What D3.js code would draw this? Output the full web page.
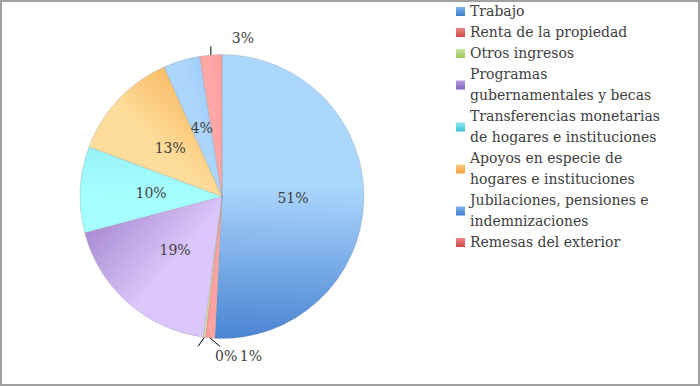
<!DOCTYPE html>
<html>
<head>
<meta charset="utf-8">
<script src="https://cdn.jsdelivr.net/npm/d3@7"></script>
<style>
  html, body { margin: 0; padding: 0; background: #fff; }
  svg { display: block; }
  text { font-family: "DejaVu Serif", "Liberation Serif", serif; fill: #404040; }
</style>
</head>
<body>
<svg id="chart" width="700" height="386"></svg>
<script>
// ---- data ----
const categories = [
  "Trabajo",
  "Renta de la propiedad",
  "Otros ingresos",
  "Programas gubernamentales y becas",
  "Transferencias monetarias de hogares e instituciones",
  "Apoyos en especie de hogares e instituciones",
  "Jubilaciones, pensiones e indemnizaciones",
  "Remesas del exterior"
];
const values = [50.8, 1.1, 0.2, 18.8, 9.8, 12.6, 4.2, 2.5];
const legendLines = [
  ["Trabajo"],
  ["Renta de la propiedad"],
  ["Otros ingresos"],
  ["Programas", "gubernamentales y becas"],
  ["Transferencias monetarias", "de hogares e instituciones"],
  ["Apoyos en especie de", "hogares e instituciones"],
  ["Jubilaciones, pensiones e", "indemnizaciones"],
  ["Remesas del exterior"]
];
// slice fill gradient colours (light -> dark), legend swatch colours (top -> bottom)
const sliceLight = ["#acd7fd", "#ffa3a3", "#dcf3a8", "#dbc7fb", "#a6ffff", "#fedc9a", "#acd6fc", "#ffa6a6"];
const sliceDark  = ["#4a84d2", "#fc9898", "#c8e890", "#a98bd2", "#98f2f6", "#f9bd68", "#a2cefa", "#fd9e9e"];
const swatchTop  = ["#7fb2ee", "#ec8582", "#cbe6a0", "#b7a0e0", "#8de6f2", "#ffcc88", "#7fb2ee", "#ec8582"];
const swatchBot  = ["#3f7ecf", "#d24c4a", "#9cc75c", "#8264bf", "#3ec2d8", "#f5a03a", "#3f7ecf", "#d24c4a"];

// ---- layout ----
const svg = d3.select("#chart");
const cx = 222, cy = 196.5, R = 142;

svg.append("rect").attr("x", 1).attr("y", 1).attr("width", 698).attr("height", 384)
  .attr("fill", "#fff").attr("stroke", "#a0a0a0").attr("stroke-width", 2);

const defs = svg.append("defs");
const total = d3.sum(values);
const pie = d3.pie().sort(null).value(d => d)(values);
const arc = d3.arc().innerRadius(0).outerRadius(R);
const rel = (a, r) => [r * Math.sin(a), -r * Math.cos(a)];
const pt = (a, r) => { const p = rel(a, r); return [cx + p[0], cy + p[1]]; };

pie.forEach((p, i) => {
  const s = rel(p.startAngle, R), e = rel(p.endAngle, R);
  const g = defs.append("linearGradient").attr("id", "sg" + i)
    .attr("gradientUnits", "userSpaceOnUse")
    .attr("x1", s[0]).attr("y1", s[1]).attr("x2", e[0]).attr("y2", e[1]);
  g.append("stop").attr("offset", 0).attr("stop-color", sliceLight[i]);
  g.append("stop").attr("offset", 0.45).attr("stop-color", sliceLight[i]);
  g.append("stop").attr("offset", 1).attr("stop-color", sliceDark[i]);
  const sw = defs.append("linearGradient").attr("id", "lg" + i)
    .attr("x1", 0).attr("y1", 0).attr("x2", 0).attr("y2", 1);
  sw.append("stop").attr("offset", 0).attr("stop-color", swatchTop[i]);
  sw.append("stop").attr("offset", 1).attr("stop-color", swatchBot[i]);
});

const gPie = svg.append("g").attr("transform", `translate(${cx},${cy})`);
gPie.selectAll("path").data(pie).join("path")
  .attr("d", arc)
  .attr("fill", (d, i) => `url(#sg${i})`)
  .attr("stroke", "rgba(140,140,140,0.45)")
  .attr("stroke-width", 0.6);

// ---- data labels ----
const pctText = v => Math.round(+(v / total * 100).toFixed(1)) + "%";
const fontSize = 14;
// inside labels at half radius; small slices labelled outside with leader lines
const outside = {
  1: { lead: [10, 8.5], lx: 41, ly: 18.5 },
  2: { lead: [-6, 9], lx: 22, ly: 18.5 },
  7: { lead: [0, -8.5], lx: 32, ly: -17 }
};
pie.forEach((p, i) => {
  const mid = (p.startAngle + p.endAngle) / 2;
  if (outside[i]) {
    const o = outside[i];
    const a = pt(mid, R);
    svg.append("line")
      .attr("x1", a[0]).attr("y1", a[1])
      .attr("x2", a[0] + o.lead[0]).attr("y2", a[1] + o.lead[1])
      .attr("stroke", "#000").attr("stroke-width", 1);
    svg.append("text").attr("x", a[0] + o.lx).attr("y", a[1] + o.ly)
      .attr("font-size", fontSize).attr("text-anchor", "middle").attr("dominant-baseline", "central")
      .text(pctText(values[i]));
  } else {
    const c = pt(mid, R * 0.5);
    svg.append("text").attr("x", c[0]).attr("y", c[1])
      .attr("font-size", fontSize).attr("text-anchor", "middle").attr("dominant-baseline", "central")
      .text(pctText(values[i]));
  }
});

// ---- legend ----
const lineH = 21;
let y0 = 11;
const gLeg = svg.append("g");
legendLines.forEach((lines, i) => {
  const n = lines.length;
  const midY = y0 + (n - 1) * lineH / 2;
  gLeg.append("rect").attr("x", 456).attr("y", midY - 4).attr("width", 9).attr("height", 9)
    .attr("fill", `url(#lg${i})`);
  lines.forEach((t, j) => {
    gLeg.append("text").attr("x", 470).attr("y", y0 + j * lineH)
      .attr("font-size", fontSize).attr("dominant-baseline", "central").text(t);
  });
  y0 += n * lineH;
});
</script>
</body>
</html>
